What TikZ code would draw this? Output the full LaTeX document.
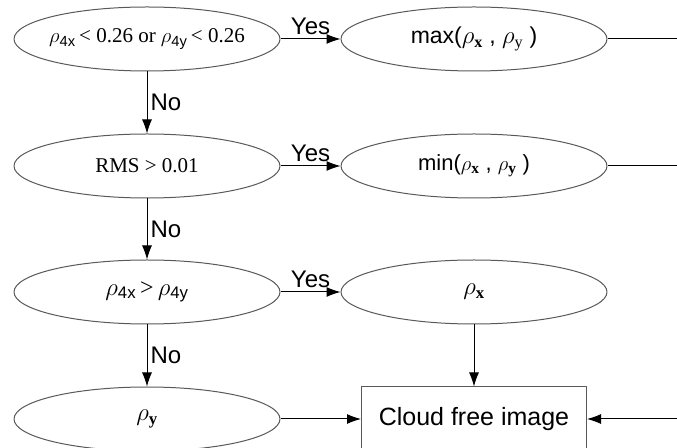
\documentclass[tikz,border=0pt]{standalone}
\usepackage{fontspec}
\setmainfont{Liberation Serif}
\setsansfont{Liberation Sans}
\usetikzlibrary{shapes.geometric,arrows.meta}

\tikzset{
  decision/.style={ellipse,draw=black!65,minimum width=266bp,minimum height=64bp,inner sep=0pt},
  outbox/.style={rectangle,draw=black!65,minimum width=225bp,minimum height=64bp,inner sep=0pt},
  answer/.style={font=\sffamily\fontsize{24bp}{28bp}\selectfont,inner sep=1bp},
}

\begin{document}
\begin{tikzpicture}[>={Latex[length=14bp,width=10bp]},line join=bevel,]
  \pgfsetlinewidth{1bp}
  \useasboundingbox (0bp,0bp) rectangle (677bp,448bp);
%%
  % Node: lowref
  \node[decision,font=\fontsize{21bp}{25bp}\selectfont] (lowref) at (147bp,409bp)
    {\makebox[0pt]{$\rho_{\mathsf{4x}}$\,< 0.26 or $\rho_{\mathsf{4y}}$\,< 0.26}};
  % Node: maxref
  \node[decision,font=\sffamily\fontsize{23bp}{27bp}\selectfont] (maxref) at (474bp,409bp)
    {max($\rho_{\mathbf{x}}$ , $\rho_{\mathrm{y}}$ )};
  % Node: rms
  \node[decision,font=\fontsize{21bp}{25bp}\selectfont] (rms) at (147bp,282bp) {RMS > 0.01};
  % Node: minref
  \node[decision,font=\sffamily\fontsize{22bp}{26bp}\selectfont] (minref) at (474bp,282bp)
    {min($\rho_{\mathbf{x}}$ , $\rho_{\mathbf{y}}$ )};
  % Node: xgty
  \node[decision,font=\fontsize{24bp}{28bp}\selectfont] (xgty) at (147bp,156bp)
    {$\rho_{\mathsf{4x}}$\,>\,$\rho_{\mathsf{4y}}$};
  % Node: rhox
  \node[decision,font=\fontsize{24bp}{28bp}\selectfont] (rhox) at (474bp,156bp) {$\rho_{\mathbf{x}}$};
  % Node: rhoy
  \node[decision,font=\fontsize{24bp}{28bp}\selectfont] (rhoy) at (147bp,29bp) {$\rho_{\mathbf{y}}$};
  % Node: cloudfree
  \node[outbox,font=\sffamily\fontsize{25bp}{29bp}\selectfont] (cloudfree) at (474bp,29bp) {Cloud free image};
  % free ends at the right border
  \coordinate (maxend) at (677bp,409bp);
  \coordinate (minend) at (677bp,282bp);
  \coordinate (cfend) at (677bp,29bp);
%%
  % Edge: lowref -> maxref
  \draw [->] (lowref) -- node[answer,midway,above=3bp] {Yes} (maxref);
  % Edge: lowref -> rms
  \draw [->] (lowref) -- node[answer,midway,right=2bp] {No} (rms);
  % Edge: rms -> minref
  \draw [->] (rms) -- node[answer,midway,above=3bp] {Yes} (minref);
  % Edge: rms -> xgty
  \draw [->] (rms) -- node[answer,midway,right=2bp] {No} (xgty);
  % Edge: xgty -> rhox
  \draw [->] (xgty) -- node[answer,midway,above=3bp] {Yes} (rhox);
  % Edge: xgty -> rhoy
  \draw [->] (xgty) -- node[answer,midway,right=2bp] {No} (rhoy);
  % Edge: rhox -> cloudfree
  \draw [->] (rhox) -- (cloudfree);
  % Edge: rhoy -> cloudfree
  \draw [->] (rhoy) -- (cloudfree);
  % Edge: maxref, minref -> right border
  \draw (maxref) -- (maxend);
  \draw (minref) -- (minend);
  % Edge: right border -> cloudfree
  \draw [->] (cfend) -- (cloudfree);
%
\end{tikzpicture}
\end{document}
